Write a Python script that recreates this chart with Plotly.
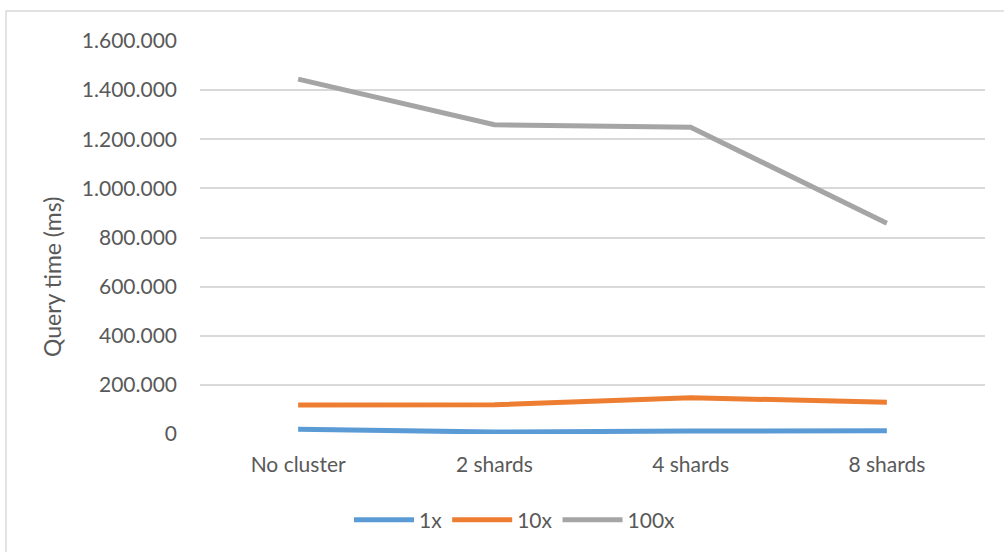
import plotly.graph_objects as go

categories = ["No cluster", "2 shards", "4 shards", "8 shards"]
series_names = ["1x", "10x", "100x"]
values_1x = [19000, 8000, 12000, 13000]
values_10x = [118000, 119000, 148000, 129000]
values_100x = [1445000, 1259000, 1249000, 858000]
y_ticks = [0, 200000, 400000, 600000, 800000, 1000000, 1200000, 1400000, 1600000]
y_tick_labels = ["0", "200.000", "400.000", "600.000", "800.000", "1.000.000", "1.200.000", "1.400.000", "1.600.000"]
y_title = "Query time (ms)"
colors = ["#5B9BD5", "#ED7D31", "#A5A5A5"]

font_family = "Lato, 'Open Sans', sans-serif"
text_color = "#595959"

fig = go.Figure()
for name, vals, col in zip(series_names, [values_1x, values_10x, values_100x], colors):
    fig.add_trace(go.Scatter(
        x=categories, y=vals, name=name, mode="lines",
        line=dict(color=col, width=5, shape="linear"),
    ))

L, R, T, B = 200, 19, 41, 118
W, H = 1004, 552
pw, ph = W - L - R, H - T - B

def px_x(x):
    return (x - L) / pw

def px_y(y):
    return (T + ph - y) / ph

fig.update_layout(
    width=W, height=H,
    margin=dict(l=L, r=R, t=T, b=B, autoexpand=False),
    paper_bgcolor="white", plot_bgcolor="white",
    font=dict(family=font_family, color=text_color, size=21),
    showlegend=True,
    legend=dict(
        orientation="h", x=px_x(515), xanchor="center",
        y=px_y(520), yanchor="middle",
        font=dict(size=21, color=text_color),
        itemwidth=60, tracegroupgap=0,
    ),
    xaxis=dict(
        type="category", range=[-0.5, 3.5],
        showgrid=False, zeroline=False, showline=False,
        ticks="", tickfont=dict(size=21, color=text_color),
        ticklabelstandoff=16,
    ),
    yaxis=dict(
        range=[0, 1600000], tickvals=y_ticks, ticktext=y_tick_labels,
        showgrid=True, gridcolor="#D9D9D9", gridwidth=1.5,
        zeroline=False, showline=False, ticks="",
        tickfont=dict(size=21, color=text_color),
        ticklabelstandoff=22,
    ),
    annotations=[dict(
        text=y_title, textangle=-90, xref="paper", yref="paper",
        x=px_x(52), y=px_y(277), xanchor="center", yanchor="middle",
        showarrow=False, font=dict(size=23, color=text_color),
    )],
    shapes=[dict(
        type="rect", xref="paper", yref="paper",
        x0=px_x(6), x1=px_x(W + 10),
        y0=px_y(H + 10), y1=px_y(11),
        line=dict(color="#D9D9D9", width=1.5), fillcolor="rgba(0,0,0,0)", layer="below",
    )],
)

fig.write_html(
    "out.html",
    config={"displayModeBar": False},
    post_script="document.body.style.margin='0';document.body.style.overflow='hidden';",
)
